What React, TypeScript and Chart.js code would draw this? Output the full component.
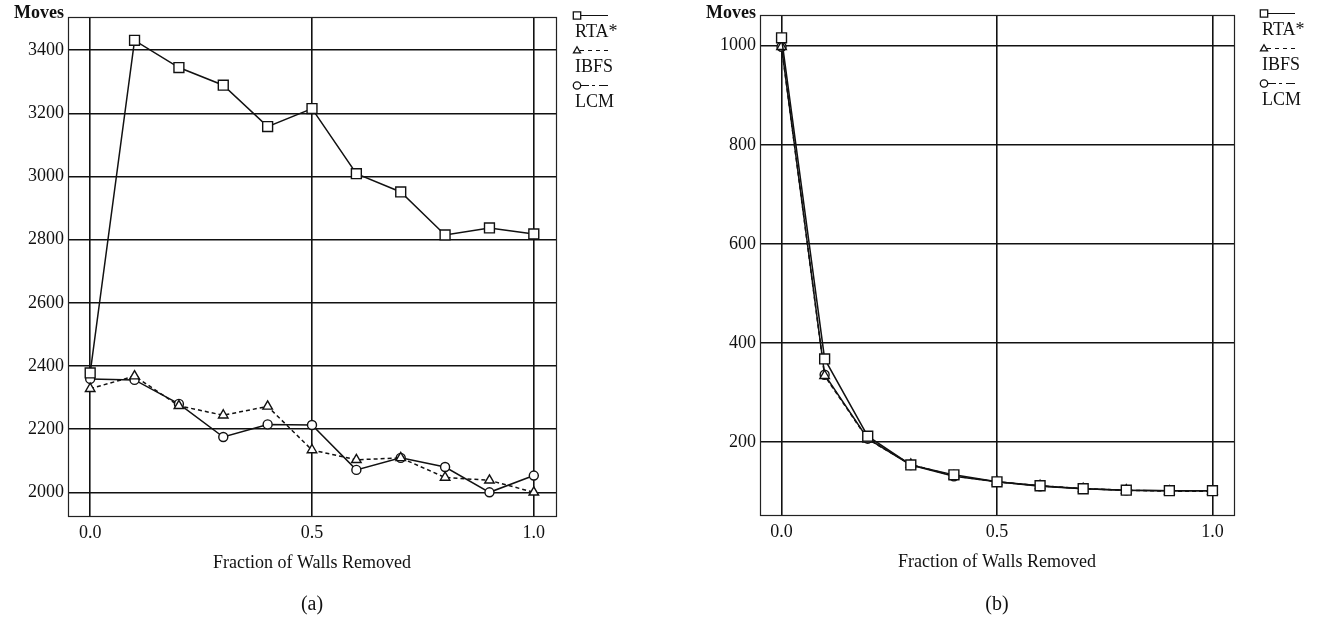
import React, { useEffect, useRef } from "react";
import { Chart, registerables } from "chart.js";

Chart.register(...registerables);

// ---- data ----
const fractions = [0, 0.1, 0.2, 0.3, 0.4, 0.5, 0.6, 0.7, 0.8, 0.9, 1.0];
const seriesNames = ["RTA*", "IBFS", "LCM"];

const rtaA = [2378, 3431, 3345, 3289, 3158, 3215, 3009, 2951, 2815, 2837, 2818];
const ibfsA = [2328, 2368, 2274, 2244, 2272, 2134, 2103, 2109, 2047, 2038, 2000];
const lcmA = [2359, 2356, 2280, 2175, 2215, 2213, 2071, 2109, 2080, 2000, 2053];

const rtaB = [1016, 368, 212, 154, 134, 120, 112, 106, 103, 102, 102];
const ibfsB = [998, 334, 206, 155, 132, 120, 112, 106, 103, 101, 101];
const lcmB = [998, 336, 207, 154, 131, 120, 111, 106, 103, 102, 102];

const xTicks = [0, 0.5, 1.0];
const yTicksA = [2000, 2200, 2400, 2600, 2800, 3000, 3200, 3400];
const yTicksB = [200, 400, 600, 800, 1000];

const yLabel = "Moves";
const xLabel = "Fraction of Walls Removed";

const FONT = '"Liberation Serif", "DejaVu Serif", serif';
const INK = "#111";

const pointStyles = ["rect", "triangle", "circle"];
const pointRadii = [7, 5.5, 4.5];
const lineDashes: number[][] = [[], [4, 3], []];
const legendDashes: number[][] = [[], [4, 4], [9, 3, 3, 4]];

function drawMarker(ctx: CanvasRenderingContext2D, style: string, x: number, y: number, r: number) {
  ctx.beginPath();
  if (style === "rect") {
    ctx.rect(x - r, y - r, 2 * r, 2 * r);
  } else if (style === "triangle") {
    ctx.moveTo(x, y - r);
    ctx.lineTo(x + r * 0.95, y + r * 0.65);
    ctx.lineTo(x - r * 0.95, y + r * 0.65);
    ctx.closePath();
  } else {
    ctx.arc(x, y, r, 0, Math.PI * 2);
  }
  ctx.fillStyle = "#fff";
  ctx.fill();
  ctx.stroke();
}

function makeOverlay(panel: string, legendX: number) {
  return {
    id: "overlay" + panel,
    afterDraw(chart: any) {
      const { ctx, chartArea: a } = chart;
      ctx.save();
      // frame
      ctx.strokeStyle = "#222";
      ctx.lineWidth = 1.2;
      ctx.setLineDash([]);
      ctx.strokeRect(a.left + 0.5, a.top + 0.5, a.width, a.height);
      // y label
      ctx.fillStyle = INK;
      ctx.font = `bold 18px ${FONT}`;
      ctx.textAlign = "right";
      ctx.textBaseline = "middle";
      ctx.fillText(yLabel, a.left - 4, 13);
      // panel label
      ctx.font = `20px ${FONT}`;
      ctx.textAlign = "center";
      ctx.fillText(`(${panel})`, (a.left + a.right) / 2, 605);
      // legend
      chart.data.datasets.forEach((ds: any, i: number) => {
        const mx = a.right + legendX;
        const my = a.top - 1.5 + 35 * i;
        ctx.strokeStyle = INK;
        ctx.lineWidth = 1;
        ctx.setLineDash(legendDashes[i]);
        ctx.beginPath();
        ctx.moveTo(mx + 3, my);
        ctx.lineTo(mx + 31, my);
        ctx.stroke();
        ctx.setLineDash([]);
        ctx.lineWidth = 1.3;
        drawMarker(ctx, pointStyles[i], mx, my, 3.7);
        ctx.fillStyle = INK;
        ctx.font = `18px ${FONT}`;
        ctx.textAlign = "left";
        ctx.textBaseline = "middle";
        ctx.fillText(ds.label, mx - 2, a.top + 15 + 35 * i);
      });
      ctx.restore();
    },
  };
}

type PanelProps = {
  series: number[][];
  yMin: number;
  yMax: number;
  yTicks: number[];
  width: number;
  yWidth: number;
  pad: { left: number; right: number; top: number; bottom: number };
  legendX: number;
  panel: string;
  left: number;
};

function Panel(p: PanelProps) {
  const ref = useRef<HTMLCanvasElement | null>(null);
  useEffect(() => {
    if (!ref.current) return;
    const gridOpts = { color: "#111", lineWidth: 1.6, drawTicks: false };
    const chart = new Chart(ref.current, {
      type: "line",
      data: {
        datasets: p.series.map((vals, i) => ({
          label: seriesNames[i],
          data: fractions.map((f, j) => ({ x: f, y: vals[j] })),
          borderColor: INK,
          borderWidth: 1.5,
          borderDash: lineDashes[i],
          pointStyle: pointStyles[i] as any,
          pointRadius: pointRadii[i],
          pointBorderWidth: 1.4,
          pointBorderColor: INK,
          pointBackgroundColor: "#fff",
          tension: 0,
          fill: false,
        })),
      },
      options: {
        animation: false,
        responsive: false,
        maintainAspectRatio: false,
        layout: { padding: p.pad },
        plugins: { legend: { display: false }, tooltip: { enabled: false } },
        scales: {
          x: {
            type: "linear",
            min: -0.05,
            max: 1.05,
            afterBuildTicks: (s: any) => {
              s.ticks = xTicks.map((v) => ({ value: v }));
            },
            afterFit: (s: any) => {
              s.height = 58;
            },
            ticks: {
              color: INK,
              font: { family: FONT, size: 18 },
              padding: 6,
              maxRotation: 0,
              callback: (v: any) => Number(v).toFixed(1),
            },
            grid: gridOpts,
            border: { display: false },
            title: {
              display: true,
              text: xLabel,
              color: INK,
              font: { family: FONT, size: 18 },
              padding: 0,
            },
          },
          y: {
            type: "linear",
            min: p.yMin,
            max: p.yMax,
            afterBuildTicks: (s: any) => {
              s.ticks = p.yTicks.map((v) => ({ value: v }));
            },
            afterFit: (s: any) => {
              s.width = p.yWidth;
            },
            ticks: {
              color: INK,
              font: { family: FONT, size: 18 },
              padding: 4,
              callback: (v: any) => String(v),
            },
            grid: gridOpts,
            border: { display: false },
          },
        },
      },
      plugins: [makeOverlay(p.panel, p.legendX)],
    });
    return () => chart.destroy();
  }, []);
  return (
    <canvas
      ref={ref}
      width={p.width}
      height={619}
      style={{ position: "absolute", left: p.left, top: 0, width: p.width, height: 619 }}
    />
  );
}

export default function App() {
  return (
    <div style={{ position: "absolute", left: 0, top: 0, width: 1324, height: 619, background: "#fff" }}>
      <Panel
        series={[rtaA, ibfsA, lcmA]}
        yMin={1925}
        yMax={3505}
        yTicks={yTicksA}
        width={660}
        yWidth={68}
        pad={{ left: 0, right: 104, top: 17, bottom: 45 }}
        legendX={21}
        panel="a"
        left={0}
      />
      <Panel
        series={[rtaB, ibfsB, lcmB]}
        yMin={53}
        yMax={1062}
        yTicks={yTicksB}
        width={664}
        yWidth={100}
        pad={{ left: 0, right: 90, top: 15, bottom: 46 }}
        legendX={30}
        panel="b"
        left={660}
      />
    </div>
  );
}
